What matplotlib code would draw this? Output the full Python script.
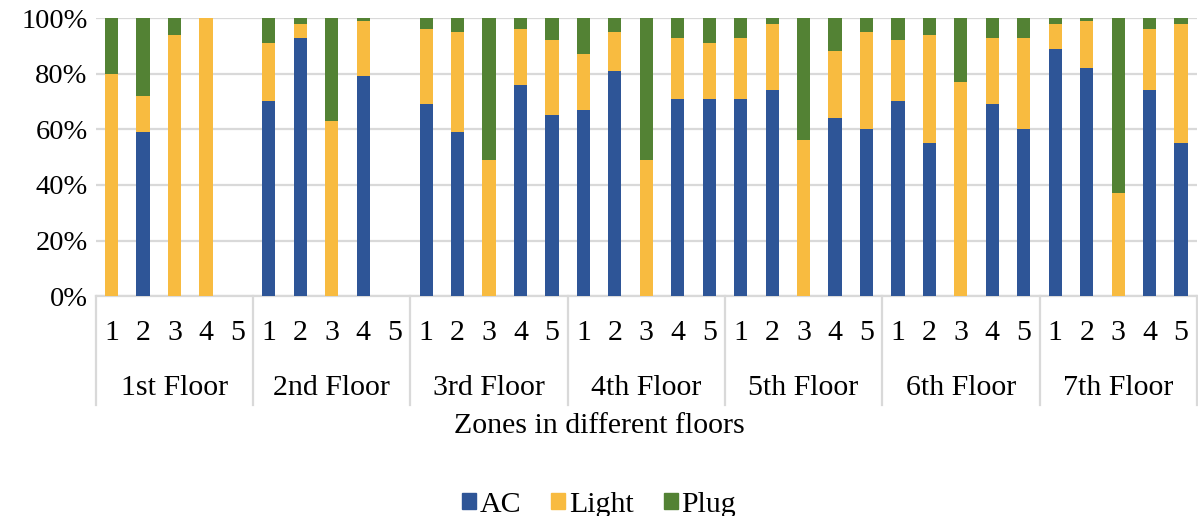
import numpy as np
import matplotlib.pyplot as plt
from matplotlib.transforms import blended_transform_factory
from matplotlib.patches import Patch

plt.rcParams['font.family'] = ['Liberation Serif', 'DejaVu Serif']

floors = ['1st Floor', '2nd Floor', '3rd Floor', '4th Floor', '5th Floor', '6th Floor', '7th Floor']
zones = ['1', '2', '3', '4', '5']

# share of each zone's energy use, in %, floor by floor
ac = [0, 59, 0, 0, 0,
      70, 93, 0, 79, 0,
      69, 59, 0, 76, 65,
      67, 81, 0, 71, 71,
      71, 74, 0, 64, 60,
      70, 55, 0, 69, 60,
      89, 82, 0, 74, 55]
light = [80, 13, 94, 100, 0,
         21, 5, 63, 20, 0,
         27, 36, 49, 20, 27,
         20, 14, 49, 22, 20,
         22, 24, 56, 24, 35,
         22, 39, 77, 24, 33,
         9, 17, 37, 22, 43]
plug = [20, 28, 6, 0, 0,
        9, 2, 37, 1, 0,
        4, 5, 51, 4, 8,
        13, 5, 51, 7, 9,
        7, 2, 44, 12, 5,
        8, 6, 23, 7, 7,
        2, 1, 63, 4, 2]

c_ac, c_light, c_plug = '#2E5597', '#F8BB40', '#538234'
grid_c = '#D9D9D9'

ac = np.array(ac)
light = np.array(light)
plug = np.array(plug)
x = np.arange(len(floors) * len(zones))

fig = plt.figure(figsize=(11.98, 5.16), dpi=100)
ax = fig.add_axes([0.080, 0.426, 0.919, 0.539])

w = 0.42
ax.bar(x, ac, w, color=c_ac, zorder=3)
ax.bar(x, light, w, bottom=ac, color=c_light, zorder=3)
ax.bar(x, plug, w, bottom=ac + light, color=c_plug, zorder=3)

ax.set_xlim(-0.5, len(x) - 0.5)
ax.set_ylim(0, 100)
ax.set_yticks(np.arange(0, 101, 20))
ax.set_yticklabels(['{}%'.format(v) for v in range(0, 101, 20)])
ax.yaxis.grid(True, color=grid_c, lw=1.6, zorder=0)
ax.tick_params(axis='y', length=0, pad=6, labelsize=20.5)
for s in ['top', 'right', 'left']:
    ax.spines[s].set_visible(False)
ax.spines['bottom'].set_color(grid_c)
ax.spines['bottom'].set_linewidth(1.6)

ax.set_xticks(x)
ax.set_xticklabels(zones * len(floors))
ax.tick_params(axis='x', length=0, pad=17, labelsize=21.5)

tr = blended_transform_factory(ax.transData, ax.transAxes)
for i, name in enumerate(floors):
    mid = i * len(zones) + (len(zones) - 1) / 2
    ax.text(mid, -0.33, name, transform=tr, ha='center', va='center', fontsize=21.5)
for i in range(len(floors) + 1):
    xd = i * len(zones) - 0.5
    ax.plot([xd, xd], [0, -0.39], transform=tr, color=grid_c, lw=1.6, clip_on=False)

fig.text(0.5, 0.175, 'Zones in different floors', ha='center', va='center', fontsize=21.5)

handles = [Patch(color=c_ac, label='AC'), Patch(color=c_light, label='Light'),
           Patch(color=c_plug, label='Plug')]
fig.legend(handles=handles, loc='center', bbox_to_anchor=(0.5, 0.022), ncol=3, frameon=False,
           fontsize=21.5, handlelength=0.48, handleheight=0.48, handletextpad=0.12,
           columnspacing=1.0, borderpad=0)

fig.savefig('out.png', dpi=100)
